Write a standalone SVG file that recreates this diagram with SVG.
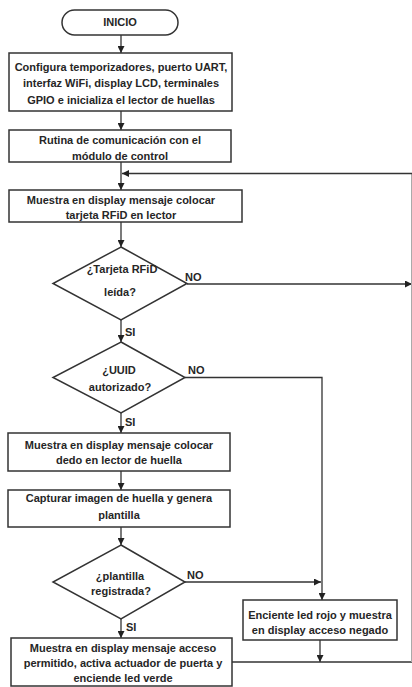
<svg xmlns="http://www.w3.org/2000/svg" width="412" height="687" viewBox="0 0 412 687">
<defs>
<marker id="ah" viewBox="0 0 10 10" refX="10" refY="5" markerWidth="7" markerHeight="7" markerUnits="userSpaceOnUse" orient="auto">
<path d="M0,0 L10,5 L0,10 z" fill="#222"/>
</marker>
<style>
.n{fill:#fff;stroke:#333;stroke-width:1.5}
.t{font-family:"Liberation Sans",Arial,sans-serif;font-weight:bold;font-size:11px;fill:#262626;text-anchor:middle}
.l{font-family:"Liberation Sans",Arial,sans-serif;font-weight:bold;font-size:11px;fill:#262626}
.c{fill:none;stroke:#333;stroke-width:1.3}
.f{fill:none;stroke:#aaa;stroke-width:1}
.a{marker-end:url(#ah)}
</style>
</defs>
<rect width="412" height="687" fill="#fff"/>
<g id="connectors">
<line class="c a" x1="121" y1="35" x2="121" y2="53"/>
<line class="c a" x1="121" y1="111" x2="121" y2="130"/>
<line class="c a" x1="121" y1="162" x2="121" y2="190"/>
<line class="c a" x1="121" y1="222" x2="121" y2="247"/>
<line class="c a" x1="121" y1="320" x2="121" y2="342"/>
<line class="c a" x1="121" y1="413" x2="121" y2="433"/>
<line class="c a" x1="121" y1="471" x2="121" y2="490"/>
<line class="c a" x1="121" y1="527" x2="121" y2="545"/>
<line class="c a" x1="121" y1="619" x2="121" y2="638"/>
<line class="c a" x1="187" y1="284" x2="412" y2="284"/>
<polyline class="c" points="185,377.5 322,377.5 322,582"/>
<line class="c a" x1="322" y1="582" x2="322" y2="600"/>
<line class="c a" x1="185" y1="582" x2="321" y2="582"/>
<line class="c a" x1="320" y1="640" x2="320" y2="662"/>
<line class="c" x1="232" y1="662" x2="412" y2="662"/>
<line class="f" x1="411.5" y1="662" x2="411.5" y2="173.5"/>
<line class="c a" x1="412" y1="173.5" x2="122" y2="173.5"/>
<text class="l" x="185" y="281">NO</text>
<text class="l" x="188" y="374">NO</text>
<text class="l" x="187" y="579">NO</text>
<text class="l" x="125" y="336">SI</text>
<text class="l" x="125" y="426">SI</text>
<text class="l" x="126" y="631">SI</text>
</g>
<g id="inicio">
<rect class="n" x="62" y="10" width="116" height="25" rx="12.5"/>
<text class="t" x="120" y="26">INICIO</text>
</g>
<g id="configura">
<rect class="n" x="9" y="53" width="223" height="58"/>
<text class="t" x="121" y="71">Configura temporizadores, puerto UART,</text>
<text class="t" x="121" y="87">interfaz WiFi, display LCD, terminales</text>
<text class="t" x="121" y="104">GPIO e inicializa el lector de huellas</text>
</g>
<g id="rutina">
<rect class="n" x="9" y="130" width="222" height="32"/>
<text class="t" x="120" y="144">Rutina de comunicación con el</text>
<text class="t" x="120" y="160">módulo de control</text>
</g>
<g id="muestra-rfid">
<rect class="n" x="9" y="190" width="233" height="32"/>
<text class="t" x="121" y="204">Muestra en display mensaje colocar</text>
<text class="t" x="121" y="219">tarjeta RFiD en lector</text>
</g>
<g id="tarjeta-leida">
<polygon class="n" points="121,247 187,283.5 121,320 53,283.5"/>
<text class="t" x="122" y="273">¿Tarjeta RFiD</text>
<text class="t" x="120" y="296">leída?</text>
</g>
<g id="uuid-autorizado">
<polygon class="n" points="121,342 185,377.5 121,413 53,377.5"/>
<text class="t" x="119" y="374">¿UUID</text>
<text class="t" x="120" y="391">autorizado?</text>
</g>
<g id="muestra-dedo">
<rect class="n" x="8" y="433" width="222" height="38"/>
<text class="t" x="119" y="449">Muestra en display mensaje colocar</text>
<text class="t" x="119" y="464">dedo en lector de huella</text>
</g>
<g id="capturar">
<rect class="n" x="8" y="490" width="222" height="37"/>
<text class="t" x="119" y="502">Capturar imagen de huella y genera</text>
<text class="t" x="119" y="519">plantilla</text>
</g>
<g id="plantilla-registrada">
<polygon class="n" points="121,545 185,582 121,619 53,582"/>
<text class="t" x="120" y="580">¿plantilla</text>
<text class="t" x="121" y="595">registrada?</text>
</g>
<g id="acceso-negado">
<rect class="n" x="243" y="600" width="154" height="40"/>
<text class="t" x="320" y="619">Enciente led rojo y muestra</text>
<text class="t" x="320" y="634">en display acceso negado</text>
</g>
<g id="acceso-permitido">
<rect class="n" x="11" y="638" width="221" height="48"/>
<text class="t" x="123" y="652">Muestra en display mensaje acceso</text>
<text class="t" x="123" y="667">permitido, activa actuador de puerta y</text>
<text class="t" x="123" y="682">enciende led verde</text>
</g>
</svg>
